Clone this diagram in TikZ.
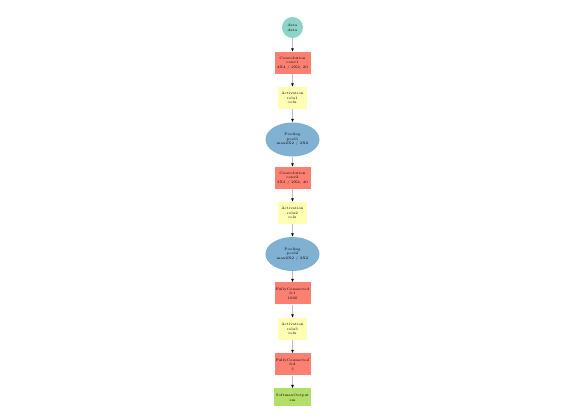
\documentclass[tikz,border=0pt]{standalone}
\usetikzlibrary{arrows.meta,shapes.geometric}
\definecolor{cdata}{HTML}{8DD3C7}
\definecolor{cconv}{HTML}{FB8072}
\definecolor{cact}{HTML}{FFFFB3}
\definecolor{cpool}{HTML}{80B1D3}
\definecolor{csm}{HTML}{B3DE69}
\begin{document}
\begin{tikzpicture}[x=1pt,y=-1pt,
  lbl/.style={font=\fontsize{3.6}{4.6}\selectfont, align=center, inner sep=0pt, text=black},
  datanode/.style={lbl, circle, fill=cdata, minimum size=21pt},
  convnode/.style={lbl, rectangle, fill=cconv, minimum width=36pt, minimum height=22pt},
  actnode/.style={lbl, rectangle, fill=cact, minimum width=29pt, minimum height=22pt},
  poolnode/.style={lbl, ellipse, fill=cpool, minimum width=54pt, minimum height=34pt},
  smnode/.style={lbl, rectangle, fill=csm, minimum width=37pt, minimum height=18pt},
  edge/.style={draw=black!25, line width=1.8pt, -{Latex[black,length=3.5pt,width=3pt]}}]
\useasboundingbox (0,0) rectangle (584,419);
\node[datanode] (data) at (292.5,27.5) {data\\data};
\node[convnode] (conv1) at (292.5,63) {Convolution\\conv1\\4X4 / 2X2, 20};
\node[actnode] (relu1) at (292.5,98) {Activation\\relu1\\relu};
\node[poolnode] (pool1) at (292.5,139.5) {Pooling\\pool1\\max2X2 / 2X2};
\node[convnode] (conv2) at (292.5,178) {Convolution\\conv2\\3X3 / 2X2, 40};
\node[actnode] (relu2) at (292.5,213) {Activation\\relu2\\relu};
\node[poolnode] (pool2) at (292.5,254) {Pooling\\pool2\\max2X2 / 2X2};
\node[convnode] (fc1) at (292.5,293.5) {FullyConnected\\fc1\\1000};
\node[actnode] (relu3) at (292.5,329) {Activation\\relu3\\relu};
\node[convnode] (fc2) at (292.5,364.5) {FullyConnected\\fc2\\3};
\node[smnode] (sm) at (292.5,397.5) {SoftmaxOutput\\sm};
\draw[edge] (data) -- (conv1);
\draw[edge] (conv1) -- (relu1);
\draw[edge] (relu1) -- (pool1);
\draw[edge] (pool1) -- (conv2);
\draw[edge] (conv2) -- (relu2);
\draw[edge] (relu2) -- (pool2);
\draw[edge] (pool2) -- (fc1);
\draw[edge] (fc1) -- (relu3);
\draw[edge] (relu3) -- (fc2);
\draw[edge] (fc2) -- (sm);
\end{tikzpicture}
\end{document}
